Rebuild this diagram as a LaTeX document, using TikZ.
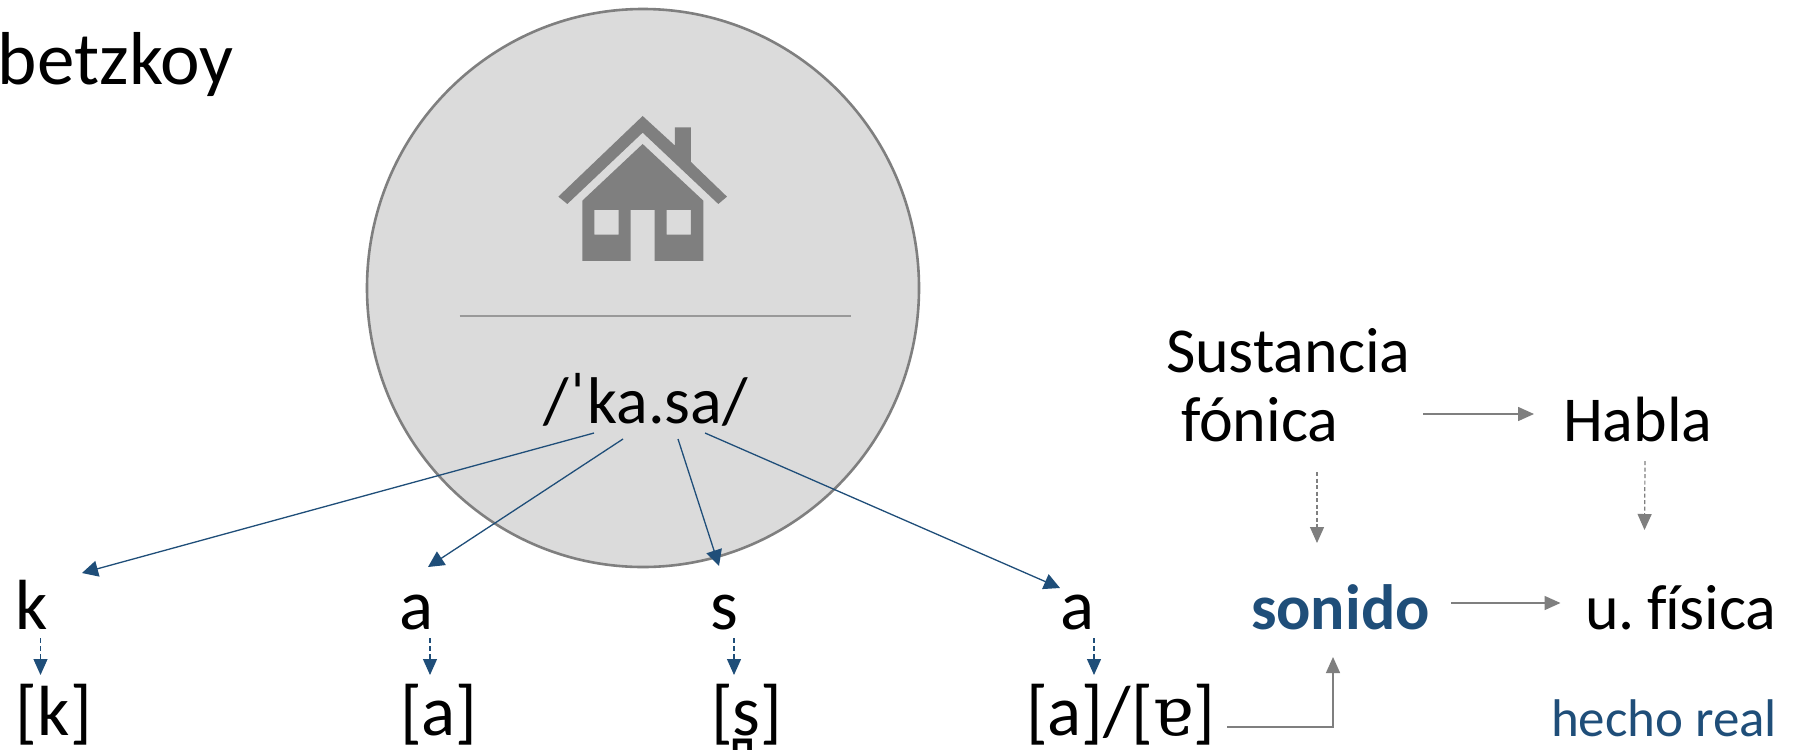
\documentclass[tikz,border=0pt]{standalone}
\usepackage{fontspec}
\setmainfont{Carlito}
\newfontfamily\ipafont{DejaVu Serif}
\newfontfamily\markfont{DejaVu Sans}
\newcommand{\titlef}{\fontsize{75}{80}\selectfont}
\newcommand{\rowf}{\fontsize{71}{80}\selectfont}
\newcommand{\mainf}{\fontsize{64}{70}\selectfont}
\definecolor{circfill}{HTML}{DBDBDB}
\definecolor{grayc}{HTML}{7F7F7F}
\definecolor{bluec}{HTML}{1F4E79}
\usetikzlibrary{arrows.meta}
\tikzset{
 txt/.style={anchor=base west,inner sep=0pt,outer sep=0pt,font=\mainf,text=black},
 rowtxt/.style={txt,font=\rowf},
 bluearrow/.style={draw=bluec,line width=1.3pt,-{Triangle[length=16pt,width=16pt,fill=bluec]}},
 bluedash/.style={draw=bluec,line width=1.2pt,dash pattern=on 5pt off 3pt,-{Triangle[length=16pt,width=14pt,fill=bluec]}},
 grayarrow/.style={draw=grayc,line width=1.5pt,-{Triangle[length=16pt,width=14pt,fill=grayc]}},
 graydash/.style={draw=grayc,line width=1.2pt,dash pattern=on 4pt off 2.5pt,-{Triangle[length=16pt,width=14pt,fill=grayc]}},
}
\begin{document}
\begin{tikzpicture}[x=1pt,y=-1pt]
\useasboundingbox (0,0) rectangle (1803,750);
\fill[white] (0,0) rectangle (1803,750);
\draw[fill=circfill,draw=grayc,line width=2.6pt] (643,288) ellipse [x radius=276,y radius=279];
% house
\begin{scope}[shift={(500,80)},x=0.3333pt,y=-0.3333pt]
\fill[grayc] (175,350)--(428,108)--(525,197)--(525,142)--(573,142)--(573,246)--(681,350)--(655,372)--(428,158)--(202,372)--cycle;
\fill[grayc,even odd rule] (428,192)--(610,362)--(610,543)--(464,543)--(464,390)--(392,390)--(392,543)--(247,543)--(247,362)--cycle
  (283,390) rectangle (356,464) (500,390) rectangle (573,464);
\end{scope}
\node[txt,font=\titlef] (title) at (-2,84) {betzkoy};
\node[inner sep=0pt,outer sep=0pt] (rulea) at (459,316) {};
\node[inner sep=0pt,outer sep=0pt] (ruleb) at (851,316) {};
\draw[draw=grayc!80,line width=1.2pt] (rulea) -- (ruleb);
\node[txt,font=\fontsize{66}{70}\selectfont] (ipa) at (543,423) {/ˈka.sa/};
\node[rowtxt] (k1) at (16,629) {k};
\node[rowtxt] (a1) at (399,629) {a};
\node[rowtxt] (s1) at (710,629) {s};
\node[rowtxt] (a2) at (1060,629) {a};
\node[rowtxt] (k2) at (16,735) {[k]};
\node[rowtxt] (a3) at (400,735) {[a]};
\node[rowtxt] (s2) at (711,735) {[s{\markfont\char"032A}]};
\node[rowtxt] (a4) at (1026,735) {[a]/[{\ipafont\fontsize{68}{60}\selectfont ɐ}]};
\node[txt,font=\mainf\bfseries,text=bluec] (son) at (1251,629) {sonido};
\node[txt] (fis) at (1585,629) {\frenchspacing\spaceskip=0.2em u. f\kern-2pt ísica};
\node[txt,font=\fontsize{53}{60}\selectfont,text=bluec] (hecho) at (1551,736) {hecho real};
\node[txt] (sus) at (1166,372) {Sustancia};
\node[txt] (fon) at (1181,441) {fónica};
\node[txt] (hab) at (1563,441) {Habla};
% arrows, ends given as offsets from the named nodes
\draw[bluearrow] ([shift={(51,10)}]ipa.base west) -- ([shift={(66,-56)}]k1.base west);
\draw[bluearrow] ([shift={(80,16)}]ipa.base west) -- ([shift={(29,-62)}]a1.base west);
\draw[bluearrow] ([shift={(135,16)}]ipa.base west) -- ([shift={(9,-63)}]s1.base west);
\draw[bluearrow] ([shift={(162,10)}]ipa.base west) -- ([shift={(0,-41)}]a2.base west);
\draw[bluedash] ([shift={(24.5,9)}]k1.base west) -- ([shift={(24.5,-60)}]k2.base west);
\draw[bluedash] ([shift={(31,9)}]a1.base west) -- ([shift={(30,-60)}]a3.base west);
\draw[bluedash] ([shift={(24,9)}]s1.base west) -- ([shift={(23,-60)}]s2.base west);
\draw[bluedash] ([shift={(34,9)}]a2.base west) -- ([shift={(68,-60)}]a4.base west);
\draw[grayarrow] ([shift={(201,-8)}]a4.base west) -| ([shift={(82,28)}]son.base west);
\draw[grayarrow] ([shift={(200,-26)}]son.base west) -- ([shift={(-24.5,-26)}]fis.base west);
\draw[grayarrow] ([shift={(242,-27)}]fon.base west) -- ([shift={(-29,-27)}]hab.base west);
\draw[graydash] ([shift={(136,31)}]fon.base west) -- ([shift={(66,-86)}]son.base west);
\draw[graydash] ([shift={(82,20)}]hab.base west) -- ([shift={(59.5,-99)}]fis.base west);
\end{tikzpicture}
\end{document}
